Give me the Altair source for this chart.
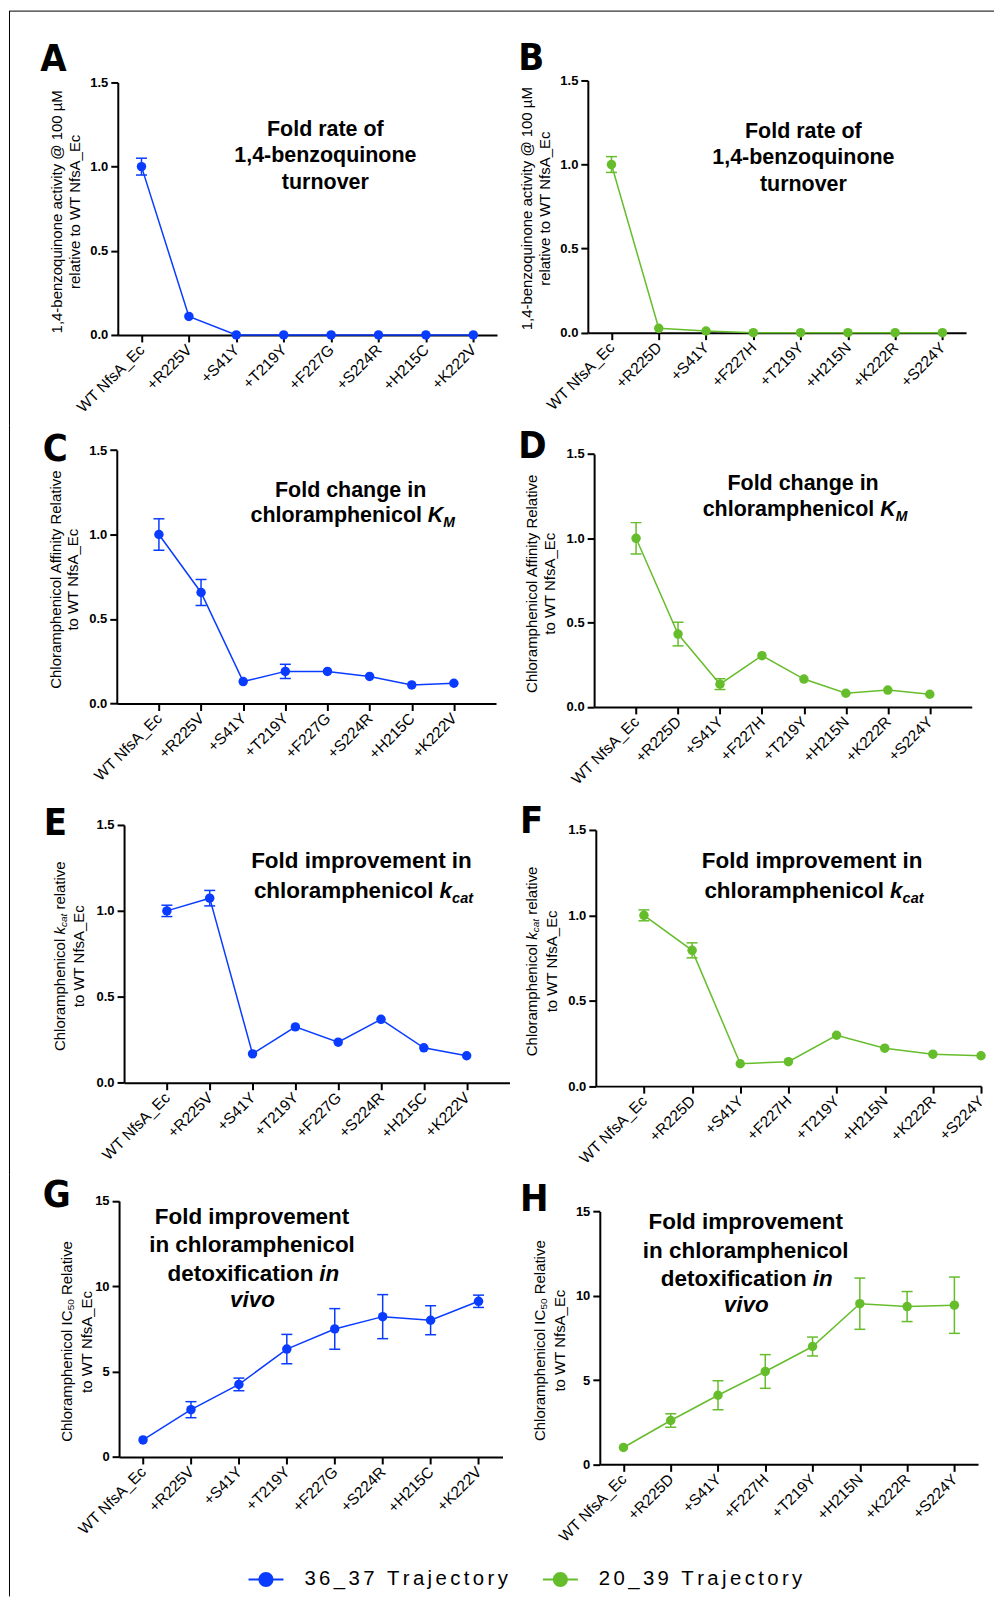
import altair as alt
import pandas as pd

# ---------------- data ----------------
SERIES = ["36_37 Trajectory", "20_39 Trajectory"]
COLORS = ["#0A3CFF", "#66BD2C"]

CATS_LEFT = ["WT NfsA_Ec", "+R225V", "+S41Y", "+T219Y", "+F227G", "+S224R", "+H215C", "+K222V"]
CATS_RIGHT = ["WT NfsA_Ec", "+R225D", "+S41Y", "+F227H", "+T219Y", "+H215N", "+K222R", "+S224Y"]

A_VALUES = [1.0, 0.11, 0.0, 0.0, 0.0, 0.0, 0.0, 0.0]
A_ERRORS = [0.05, 0, 0, 0, 0, 0, 0, 0]
B_VALUES = [1.0, 0.026, 0.01, 0.0, 0.0, 0.0, 0.0, 0.0]
B_ERRORS = [0.047, 0, 0, 0, 0, 0, 0, 0]
C_VALUES = [1.0, 0.657, 0.13, 0.19, 0.19, 0.16, 0.11, 0.12]
C_ERRORS = [0.093, 0.077, 0, 0.042, 0, 0, 0, 0]
D_VALUES = [1.0, 0.432, 0.135, 0.304, 0.165, 0.081, 0.10, 0.075]
D_ERRORS = [0.093, 0.07, 0.032, 0, 0, 0, 0, 0]
E_VALUES = [1.0, 1.074, 0.168, 0.325, 0.236, 0.369, 0.203, 0.157]
E_ERRORS = [0.033, 0.045, 0, 0, 0, 0, 0, 0]
F_VALUES = [1.0, 0.795, 0.131, 0.143, 0.298, 0.222, 0.187, 0.178]
F_ERRORS = [0.032, 0.044, 0, 0, 0, 0, 0, 0]
G_VALUES = [1.0, 2.77, 4.25, 6.32, 7.5, 8.22, 8.01, 9.12]
G_ERRORS = [0, 0.47, 0.37, 0.86, 1.19, 1.29, 0.85, 0.36]
H_VALUES = [1.0, 2.6, 4.1, 5.51, 6.99, 9.53, 9.36, 9.44]
H_ERRORS = [0, 0.4, 0.86, 1.0, 0.56, 1.52, 0.89, 1.67]

Y_TICKS_FOLD = [0, 0.5, 1.0, 1.5]
Y_TICKS_IC50 = [0, 5, 10, 15]

YT_BQ = ["1,4-benzoquinone activity @ 100 \u00b5M", "relative to WT NfsA_Ec"]
YT_AFF = ["Chloramphenicol Affinity Relative", "to WT NfsA_Ec"]
YT_2 = "to WT NfsA_Ec"

# ---------------- layout ----------------
FONT = "Liberation Sans, Arial, sans-serif"
NARROW = "Liberation Sans Narrow, Arial Narrow, DejaVu Sans Condensed, sans-serif"
CX = [8, 512]
CW = [504, 483]
CY = [8, 425, 798, 1175]
CH = [417, 373, 377, 423]
TS = 21.5   # in-plot title size (A-D)
TL = 22.5   # in-plot title size (E-H)
YS = 15     # y title size

LEGEND_PATH = ("M-1,-0.06H1V0.06H-1Z "
               "M0.43,0A0.43,0.43,0,1,1,-0.43,0A0.43,0.43,0,1,1,0.43,0Z")
LEGEND_LABEL_EXPR = "join(split(datum.label, ''), '" + "\u2006" + "')"


def T(text, gx, gy, size=TS, weight="bold", style="normal", align="center",
      angle=0, font=FONT, baseline="alphabetic"):
    return dict(text=text, gx=gx, gy=gy, size=size, weight=weight, style=style,
                align=align, angle=angle, font=font, baseline=baseline)


def letter(t, gx, gy):
    return T(t, gx, gy, size=38, font=NARROW, align="left")


def ytitle(text, gx, gy, size=YS, style="normal", align="center"):
    return T(text, gx, gy, size=size, weight="normal", style=style, align=align,
             angle=270, baseline="middle")


def ytitle_kcat(x, ys):
    return [ytitle("Chloramphenicol", x, ys, align="left"),
            ytitle("k", x, ys - 116.7, style="italic", align="left"),
            ytitle("cat", x + 4, ys - 124.2, size=10, style="italic", align="left"),
            ytitle("relative", x, ys - 141.7, align="left")]


def ytitle_ic50(x, ys):
    return [ytitle("Chloramphenicol IC", x, ys, align="left"),
            ytitle("50", x + 4, ys - 131.7, size=10, align="left"),
            ytitle("Relative", x, ys - 147.0, align="left")]


PANELS = [
    dict(col=0, row=0, cats=CATS_LEFT, vals=A_VALUES, errs=A_ERRORS, s=0,
         yax=117, y0=334, ytop=81, xend=497, dom=[-0.5, 7.5], ymax=1.5,
         yticks=Y_TICKS_FOLD, fmt=".1f",
         texts=[letter("A", 39.3, 70),
                ytitle(YT_BQ[0], 56, 210.6), ytitle(YT_BQ[1], 74, 210.6),
                T("Fold rate of", 325, 135), T("1,4-benzoquinone", 325, 161),
                T("turnover", 325, 187.7)]),
    dict(col=1, row=0, cats=CATS_RIGHT, vals=B_VALUES, errs=B_ERRORS, s=1,
         yax=588, y0=331.7, ytop=79, xend=967, dom=[-0.5, 7.5], ymax=1.5,
         yticks=Y_TICKS_FOLD, fmt=".1f",
         texts=[letter("B", 518.3, 68.3),
                ytitle(YT_BQ[0], 527.5, 207.5), ytitle(YT_BQ[1], 545, 207.5),
                T("Fold rate of", 804, 136.7), T("1,4-benzoquinone", 804, 162.3),
                T("turnover", 804, 189.3)]),
    dict(col=0, row=1, cats=CATS_LEFT, vals=C_VALUES, errs=C_ERRORS, s=0,
         yax=116, y0=703.3, ytop=449.3, xend=496, dom=[-1, 8], ymax=1.5,
         yticks=Y_TICKS_FOLD, fmt=".1f",
         texts=[letter("C", 41.7, 460),
                ytitle(YT_AFF[0], 55, 579.2), ytitle(YT_AFF[1], 72.5, 579.2),
                T("Fold change in", 350.3, 496.7),
                T("chloramphenicol", 421.9, 521, align="right"),
                T("K", 427.7, 521, style="italic", align="left"),
                T("M", 443.2, 526, size=14, style="italic", align="left")]),
    dict(col=1, row=1, cats=CATS_RIGHT, vals=D_VALUES, errs=D_ERRORS, s=1,
         yax=594.3, y0=706.7, ytop=453.3, xend=972.7, dom=[-1, 8], ymax=1.5,
         yticks=Y_TICKS_FOLD, fmt=".1f",
         texts=[letter("D", 518.3, 457.3),
                ytitle(YT_AFF[0], 532, 583.3), ytitle(YT_AFF[1], 550.5, 583.3),
                T("Fold change in", 803.7, 489.3),
                T("chloramphenicol", 875, 515, align="right"),
                T("K", 881, 515, style="italic", align="left"),
                T("M", 896.5, 520, size=14, style="italic", align="left")]),
    dict(col=0, row=2, cats=CATS_LEFT, vals=E_VALUES, errs=E_ERRORS, s=0,
         yax=123.3, y0=1083.3, ytop=825, xend=509.5, dom=[-1, 8], ymax=1.5,
         yticks=Y_TICKS_FOLD, fmt=".1f",
         texts=[letter("E", 42.7, 835)] + ytitle_kcat(59, 1051.5) +
               [ytitle(YT_2, 78.5, 956.5),
                T("Fold improvement in", 361.2, 868.3, size=TL),
                T("chloramphenicol", 433.3, 898.3, size=TL, align="right"),
                T("k", 439.3, 898.3, size=TL, style="italic", align="left"),
                T("cat", 452, 903.3, size=14.5, style="italic", align="left")]),
    dict(col=1, row=2, cats=CATS_RIGHT, vals=F_VALUES, errs=F_ERRORS, s=1,
         yax=596, y0=1086.7, ytop=830, xend=982, dom=[-1, 7], ymax=1.5,
         yticks=Y_TICKS_FOLD, fmt=".1f",
         texts=[letter("F", 520, 833.3)] + ytitle_kcat(532.5, 1056.7) +
               [ytitle(YT_2, 552, 961.7),
                T("Fold improvement in", 812.8, 868.3, size=TL),
                T("chloramphenicol", 884.7, 898.3, size=TL, align="right"),
                T("k", 890.7, 898.3, size=TL, style="italic", align="left"),
                T("cat", 903.4, 903.3, size=14.5, style="italic", align="left")]),
    dict(col=0, row=3, cats=CATS_LEFT, vals=G_VALUES, errs=G_ERRORS, s=0,
         yax=118.3, y0=1458.3, ytop=1201.7, xend=502.5, dom=[-0.5, 7.5], ymax=15,
         yticks=Y_TICKS_IC50, fmt="d",
         texts=[letter("G", 41.7, 1208)] + ytitle_ic50(66, 1443.1) +
               [ytitle(YT_2, 86.5, 1343),
                T("Fold improvement", 251.5, 1225, size=TL),
                T("in chloramphenicol", 251.5, 1253.3, size=TL),
                T("detoxification", 313, 1281.7, size=TL, align="right"),
                T("in", 319, 1281.7, size=TL, style="italic", align="left"),
                T("vivo", 252, 1308.3, size=TL, style="italic")]),
    dict(col=1, row=3, cats=CATS_RIGHT, vals=H_VALUES, errs=H_ERRORS, s=1,
         yax=600, y0=1465.7, ytop=1212.3, xend=979, dom=[-0.5, 7.5], ymax=15,
         yticks=Y_TICKS_IC50, fmt="d",
         texts=[letter("H", 520, 1211.7)] + ytitle_ic50(540, 1442.3) +
               [ytitle(YT_2, 560.5, 1341.7),
                T("Fold improvement", 746.2, 1230, size=TL),
                T("in chloramphenicol", 746.2, 1259.3, size=TL),
                T("detoxification", 807.3, 1286.7, size=TL, align="right"),
                T("in", 813.3, 1286.7, size=TL, style="italic", align="left"),
                T("vivo", 746.7, 1313.3, size=TL, style="italic")]),
]

cscale = alt.Scale(domain=SERIES, range=COLORS)
LEGEND = alt.Legend(
    orient="none", legendX=240, legendY=1555.5, direction="horizontal",
    title=None, symbolType=LEGEND_PATH, symbolSize=1225, symbolStrokeWidth=0,
    labelFontSize=20.4, labelFont=FONT, labelColor="black", labelOffset=21,
    labelLimit=400, columnPadding=35, padding=0, labelExpr=LEGEND_LABEL_EXPR)


def build(p):
    ox, oy = CX[p["col"]], CY[p["row"]]
    W, H = CW[p["col"]], CH[p["row"]]
    color = COLORS[p["s"]]
    df = pd.DataFrame({"idx": list(range(8)), "val": p["vals"], "err": p["errs"]})
    df["series"] = SERIES[p["s"]]
    df["lo"] = df["val"] - df["err"]
    df["hi"] = df["val"] + df["err"]

    xa, xb = p["yax"] - ox, p["xend"] - ox
    yb, yt = p["y0"] - oy, p["ytop"] - oy
    lab = "[" + ",".join("'" + c + "'" for c in p["cats"]) + "][datum.value]"

    xscale = alt.Scale(domain=p["dom"], range=[xa, xb], nice=False, zero=False)
    yscale = alt.Scale(domain=[0, p["ymax"]], range=[yb, yt], nice=False, zero=False)
    xaxis = alt.Axis(values=list(range(8)), labelExpr=lab, labelAngle=315,
                     labelAlign="right", labelBaseline="middle", labelFontSize=15.5,
                     labelFont=FONT, labelColor="black", labelPadding=5,
                     labelOverlap=False, labelFlush=False, tickSize=7, tickWidth=2,
                     tickColor="black", domainColor="black", domainWidth=2,
                     grid=False, title=None, offset=yb - H)
    yaxis = alt.Axis(values=p["yticks"], format=p["fmt"], labelFontSize=13,
                     labelFontWeight="bold", labelFont=FONT, labelColor="black",
                     labelPadding=3, labelOverlap=False, labelFlush=False,
                     tickSize=7, tickWidth=2, tickColor="black", domainColor="black",
                     domainWidth=2, grid=False, title=None, offset=-xa)

    X = alt.X("idx:Q", scale=xscale, axis=xaxis)
    base = alt.Chart(df)

    line = base.mark_line(strokeWidth=1.5, color=color).encode(
        x=X, y=alt.Y("val:Q", scale=yscale, axis=yaxis))
    ebar = base.transform_filter("datum.err > 0")
    rule = ebar.mark_rule(strokeWidth=1.5, color=color).encode(
        x=X, y=alt.Y("lo:Q", scale=yscale, axis=yaxis), y2="hi:Q")
    cap_lo = ebar.mark_tick(orient="horizontal", size=11, thickness=1.5, opacity=1,
                            color=color).encode(
        x=X, y=alt.Y("lo:Q", scale=yscale, axis=yaxis))
    cap_hi = ebar.mark_tick(orient="horizontal", size=11, thickness=1.5, opacity=1,
                            color=color).encode(
        x=X, y=alt.Y("hi:Q", scale=yscale, axis=yaxis))
    pts = base.mark_point(filled=True, size=90, opacity=1).encode(
        x=X, y=alt.Y("val:Q", scale=yscale, axis=yaxis),
        color=alt.Color("series:N", scale=cscale, legend=LEGEND))

    layers = [line, rule, cap_lo, cap_hi, pts]
    one = alt.Data(values=[{"k": 0}])
    for t in p["texts"]:
        layers.append(alt.Chart(one).mark_text(
            text=t["text"], font=t["font"], fontSize=t["size"], fontWeight=t["weight"],
            fontStyle=t["style"], align=t["align"], baseline=t["baseline"],
            angle=t["angle"], color="black").encode(
            x=alt.value(t["gx"] - ox), y=alt.value(t["gy"] - oy)))
    # figure frame (top and left edges)
    if p["row"] == 0:
        layers.append(alt.Chart(one).mark_rule(color="black", strokeWidth=1).encode(
            x=alt.value(0), x2=alt.value(W), y=alt.value(1.5)))
    if p["col"] == 0:
        layers.append(alt.Chart(one).mark_rule(color="black", strokeWidth=1).encode(
            x=alt.value(0.5), y=alt.value(1.5 if p["row"] == 0 else 0), y2=alt.value(H)))
    return alt.layer(*layers).properties(width=W, height=H)


chart = alt.concat(*[build(p) for p in PANELS], columns=2, spacing=0,
                   bounds="flush", align="each").resolve_scale(
    x="independent", y="independent", color="shared").properties(
    padding=0).configure_view(stroke=None)

chart.save("out.html", embed_options={"renderer": "svg", "actions": False})
